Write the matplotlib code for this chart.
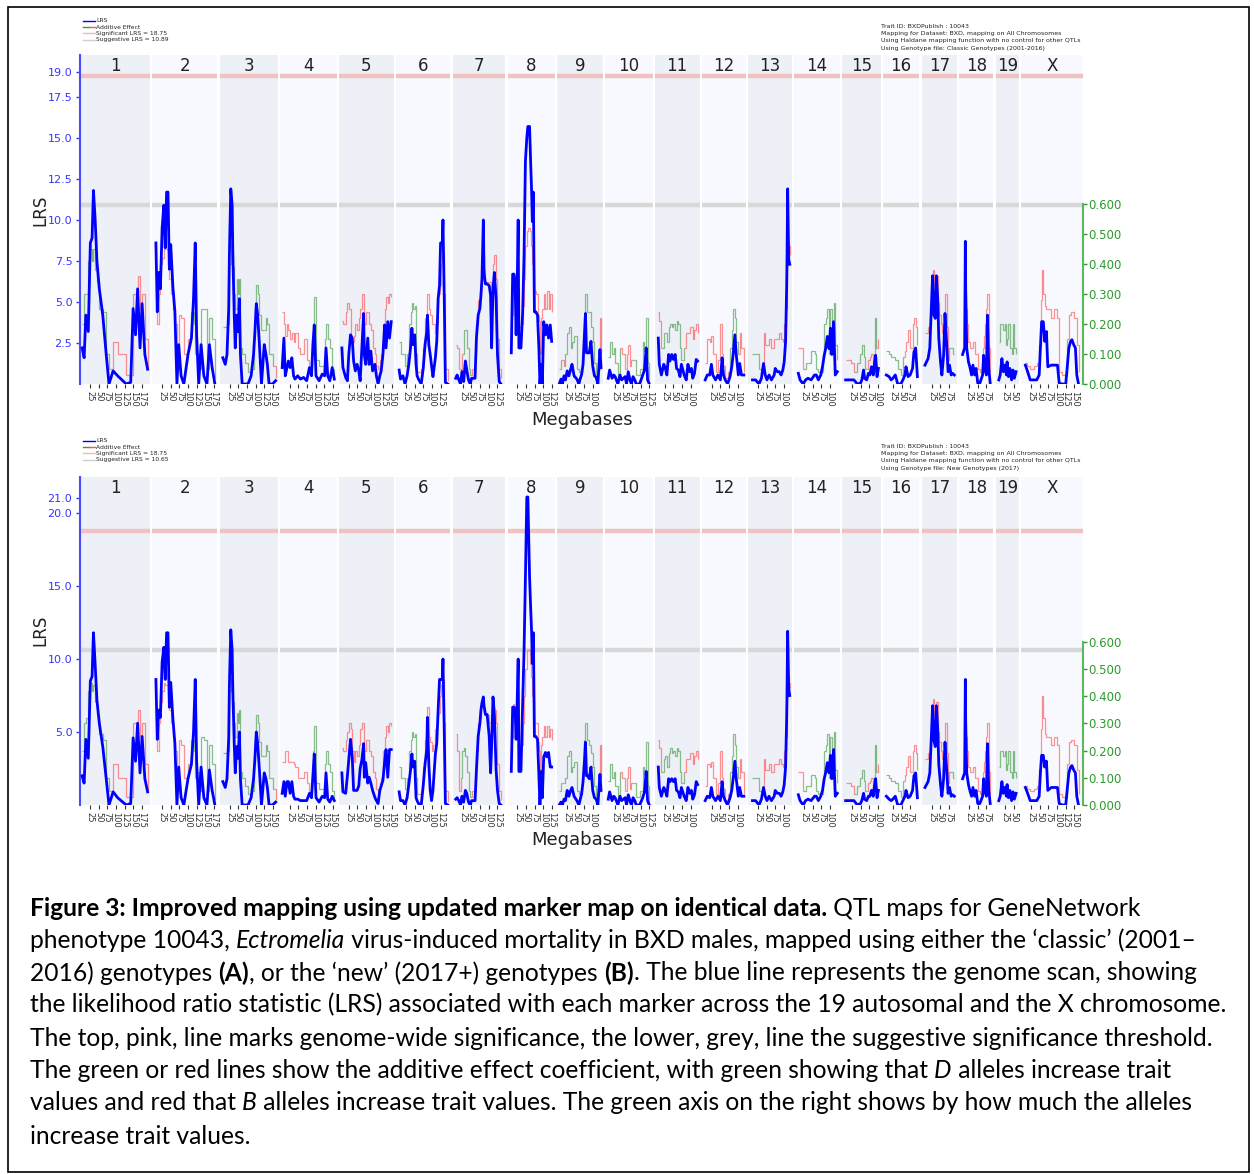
# QTL maps (GeneNetwork style) for two genotype files, with the figure caption below

import numpy as np
import matplotlib
matplotlib.use("Agg")
import matplotlib.pyplot as plt
from matplotlib.collections import LineCollection
from matplotlib.patches import Rectangle
from matplotlib import transforms

# %% data
chrom_names = ['1', '2', '3', '4', '5', '6', '7', '8', '9', '10',
               '11', '12', '13', '14', '15', '16', '17', '18', '19', 'X']
chrom_len = [195, 182, 160, 157, 152, 150, 145, 129, 125, 131,
             122, 120, 120, 125, 104, 98, 95, 91, 61, 171]  # Mb

# marker positions (Mb) per chromosome
pos = [
    [2, 8, 13, 20, 26, 31, 35, 40, 45, 52, 62, 72, 80, 92, 105, 130, 143, 150, 157, 163, 170, 176, 184, 192],
    [7, 11, 15, 20, 25, 30, 34, 38, 42, 46, 50, 56, 62, 68, 73, 80, 88, 100, 110, 116, 121, 125, 131, 138, 146, 155, 162, 170, 178],
    [5, 12, 17, 22, 24, 28, 32, 34, 38, 41, 45, 49, 53, 56, 61, 69, 78, 87, 94, 98, 102, 106, 111, 117, 125, 130, 134, 139, 149, 158],
    [3, 8, 12, 17, 21, 26, 31, 36, 40, 48, 56, 65, 74, 82, 88, 92, 96, 101, 110, 119, 126, 130, 135, 141, 148, 154],
    [5, 8, 16, 21, 25, 30, 35, 39, 44, 49, 54, 58, 63, 68, 70, 74, 80, 84, 89, 94, 101, 105, 110, 115, 119, 124, 129, 133, 138, 143, 148],
    [5, 9, 16, 22, 28, 33, 38, 42, 45, 50, 54, 57, 61, 69, 75, 80, 85, 87, 91, 95, 99, 103, 110, 114, 118, 122, 125, 130, 132, 136, 139, 146],
    [5, 9, 14, 19, 23, 28, 33, 37, 42, 47, 51, 61, 65, 70, 75, 78, 81, 85, 87, 91, 96, 102, 106, 109, 113, 117, 122, 126, 131, 136],
    [7, 11, 15, 18, 21, 24, 27, 29, 35, 40, 44, 48, 52, 55, 60, 63, 66, 68, 71, 74, 78, 83, 87, 90, 94, 97, 101, 106, 110, 115, 120, 124],
    [3, 8, 12, 17, 21, 26, 31, 36, 40, 46, 54, 60, 63, 68, 72, 76, 79, 82, 86, 90, 95, 100, 105, 110, 115, 121, 124],
    [6, 10, 17, 22, 26, 34, 40, 45, 55, 59, 64, 69, 73, 78, 83, 87, 97, 106, 111, 116, 120, 125],
    [6, 9, 15, 22, 26, 31, 36, 40, 45, 50, 55, 59, 64, 69, 73, 81, 87, 92, 97, 102, 106, 111, 116, 120],
    [6, 12, 19, 24, 28, 36, 43, 50, 55, 59, 64, 71, 78, 83, 87, 92, 96, 102, 106, 111, 118],
    [9, 18, 28, 35, 41, 46, 51, 57, 64, 72, 75, 81, 87, 92, 97, 101, 105, 108, 109, 111, 114, 117],
    [8, 13, 22, 29, 36, 45, 55, 60, 66, 73, 78, 83, 87, 92, 97, 101, 105, 110, 115, 121],
    [6, 12, 21, 30, 40, 49, 53, 58, 61, 67, 72, 76, 81, 86, 90, 93, 97, 101],
    [6, 14, 20, 25, 32, 39, 48, 54, 60, 63, 69, 75, 82, 86, 91, 96],
    [6, 15, 20, 24, 28, 32, 36, 39, 43, 46, 51, 55, 60, 64, 69, 73, 77, 82, 86, 91],
    [6, 12, 14, 15, 18, 23, 27, 32, 36, 41, 45, 50, 56, 64, 67, 70, 75, 78, 82, 86],
    [6, 10, 15, 19, 23, 28, 30, 34, 38, 43, 47, 51, 56],
    [8, 13, 22, 32, 41, 48, 52, 55, 60, 64, 69, 73, 83, 92, 101, 106, 115, 125, 129, 134, 139, 143, 148, 153, 157, 162],
]

# (A) classic genotypes: LRS and additive effect (+ = D allele increases, - = B allele increases)
lrs_a = [
    [2.2, 1.6, 4.2, 3.2, 8.6, 8.9, 11.8, 10.0, 7.5, 5.8, 4.2, 1.8, 0.0, 0.8, 0.5, 0.0, 0.1, 4.6, 3.0, 5.8, 2.2, 4.9, 1.8, 0.9],
    [8.6, 4.4, 6.8, 5.8, 9.5, 10.9, 8.3, 11.7, 11.7, 7.0, 8.5, 6.0, 4.4, 0.0, 2.4, 0.5, 0.0, 1.8, 2.8, 5.2, 8.6, 3.0, 0.0, 2.4, 0.5, 0.0, 2.4, 1.0, 0.0],
    [1.6, 1.2, 1.8, 4.6, 7.9, 11.9, 10.9, 7.9, 4.2, 2.2, 4.2, 3.2, 5.2, 1.8, 0.0, 0.0, 0.0, 0.5, 1.8, 3.2, 4.9, 4.2, 2.4, 0.0, 2.4, 1.8, 1.2, 0.0, 0.0, 0.2],
    [1.0, 2.8, 0.5, 1.0, 1.4, 1.0, 1.6, 0.5, 0.3, 0.5, 0.3, 0.4, 0.2, 1.0, 0.5, 2.4, 3.6, 0.5, 0.2, 0.6, 0.5, 2.2, 0.5, 0.2, 1.0, 0.3],
    [2.2, 1.0, 0.4, 0.2, 1.8, 3.0, 2.8, 1.4, 0.8, 1.2, 0.8, 0.2, 2.2, 4.3, 1.8, 1.2, 2.8, 1.2, 2.0, 0.8, 1.2, 0.5, 0.0, 0.5, 0.8, 1.8, 3.6, 2.2, 3.8, 2.8, 3.8],
    [0.85, 0.3, 0.5, 0.0, 0.5, 1.2, 2.2, 3.4, 2.4, 3.0, 1.2, 0.5, 0.3, 0.0, 1.0, 2.4, 3.2, 4.2, 2.4, 1.8, 1.1, 0.45, 1.6, 2.6, 5.2, 6.0, 8.6, 8.6, 10.0, 4.8, 0.1, 0.0],
    [0.35, 0.55, 0.25, 0.0, 0.75, 0.15, 1.4, 0.85, 0.25, 0.0, 0.35, 0.35, 2.8, 4.2, 4.6, 5.4, 6.4, 10.0, 6.8, 6.1, 6.1, 6.0, 5.4, 2.2, 5.8, 6.8, 5.2, 1.8, 0.15, 0.0],
    [1.9, 6.7, 6.7, 6.2, 3.0, 5.8, 10.0, 2.2, 2.2, 4.4, 7.9, 13.6, 15.0, 15.7, 15.7, 13.6, 11.7, 9.9, 11.7, 4.4, 4.4, 4.2, 2.2, 0.0, 1.2, 0.0, 3.8, 3.0, 3.6, 2.8, 3.6, 2.6],
    [0.0, 0.3, 0.0, 0.5, 0.25, 0.8, 0.5, 0.9, 1.2, 0.5, 0.3, 0.0, 0.25, 0.6, 1.2, 3.0, 4.3, 1.9, 1.9, 1.9, 2.6, 1.1, 0.5, 0.4, 0.0, 2.1, 1.0],
    [0.35, 0.85, 0.35, 0.55, 0.45, 0.0, 0.55, 0.25, 0.45, 0.0, 0.75, 0.25, 0.0, 0.45, 0.25, 0.0, 0.0, 0.55, 0.85, 2.2, 0.25, 0.0],
    [2.8, 1.2, 0.55, 1.2, 1.0, 0.55, 1.8, 1.4, 1.8, 1.5, 1.8, 0.95, 0.85, 0.45, 1.2, 0.55, 0.25, 1.2, 0.75, 0.95, 0.35, 0.65, 1.5, 1.4],
    [0.25, 0.55, 0.55, 1.2, 0.55, 0.25, 0.55, 0.25, 1.6, 0.55, 0.25, 0.0, 0.45, 1.05, 1.8, 3.0, 1.8, 0.55, 1.25, 0.55, 0.55],
    [0.25, 0.25, 0.0, 0.35, 1.25, 0.55, 0.25, 0.55, 0.25, 0.55, 0.95, 0.75, 0.75, 0.55, 0.85, 1.35, 2.6, 5.8, 7.3, 11.9, 7.6, 7.3],
    [0.65, 0.25, 0.0, 0.25, 0.35, 0.25, 0.55, 0.55, 0.25, 0.55, 1.05, 1.75, 2.15, 2.9, 2.15, 3.4, 1.8, 3.8, 0.55, 0.75],
    [0.25, 0.25, 0.25, 0.25, 0.0, 0.05, 0.25, 0.85, 0.35, 0.25, 0.65, 0.55, 1.05, 0.55, 1.35, 1.75, 0.45, 0.95],
    [0.55, 0.45, 0.25, 0.35, 0.55, 0.0, 0.0, 0.25, 0.55, 1.05, 0.45, 0.55, 0.95, 1.95, 2.2, 0.45],
    [1.15, 1.55, 2.2, 4.4, 6.6, 4.2, 4.0, 6.6, 5.2, 2.8, 1.35, 0.55, 1.75, 4.3, 2.4, 0.75, 1.15, 0.55, 0.65, 0.55],
    [1.8, 2.2, 8.7, 5.8, 2.2, 1.35, 1.05, 0.55, 1.15, 0.55, 0.95, 0.05, 0.05, 0.55, 1.75, 0.95, 0.55, 4.2, 0.95, 0.05],
    [0.25, 0.55, 1.55, 0.75, 1.15, 0.55, 1.35, 0.45, 0.95, 0.25, 0.85, 0.35, 0.75],
    [1.15, 0.85, 0.25, 0.25, 0.25, 0.55, 2.4, 3.8, 3.8, 2.6, 3.2, 1.05, 1.15, 1.15, 1.15, 0.05, 0.0, 0.0, 0.95, 2.2, 2.6, 2.7, 2.4, 2.2, 0.55, 0.0],
]
add_a = [
    [0.2, 0.3, 0.3, 0.41, 0.45, 0.41, 0.45, 0.38, 0.34, 0.25, 0.24, 0.1, -0.05, -0.14, -0.1, -0.03, -0.03, -0.3, -0.3, -0.36, -0.25, -0.3, -0.15, -0.05],
    [-0.35, -0.2, -0.3, -0.4, -0.42, -0.45, -0.45, -0.45, -0.4, -0.35, -0.3, -0.25, -0.2, -0.05, -0.23, -0.22, -0.1, 0.15, 0.24, 0.2, -0.1, 0.1, 0.05, 0.25, 0.25, 0.05, 0.22, 0.15, 0.02],
    [0.19, 0.19, 0.2, 0.3, 0.4, 0.47, 0.45, 0.39, 0.3, 0.25, 0.35, 0.3, 0.35, 0.12, 0.1, 0.07, 0.04, 0.05, 0.15, 0.25, 0.33, 0.3, 0.23, 0.18, 0.18, 0.22, 0.2, 0.1, -0.06, 0.02],
    [-0.24, -0.2, -0.16, -0.2, -0.18, -0.15, -0.17, -0.14, -0.17, -0.12, -0.1, -0.15, -0.08, -0.05, 0.1, 0.2, 0.29, 0.08, 0.06, 0.06, 0.15, 0.2, 0.15, 0.12, 0.05, 0.02],
    [-0.21, -0.2, -0.24, -0.27, -0.25, -0.14, -0.14, -0.16, -0.2, -0.18, -0.22, -0.25, -0.3, -0.28, -0.2, -0.24, -0.24, -0.2, -0.18, -0.12, -0.1, -0.06, -0.05, -0.08, -0.1, -0.2, -0.25, -0.29, -0.27, -0.3, -0.29],
    [0.14, 0.1, 0.1, 0.06, 0.1, 0.2, 0.24, 0.27, 0.25, 0.26, 0.1, 0.04, -0.04, -0.05, -0.12, -0.22, -0.3, -0.3, -0.25, -0.23, -0.2, -0.2, -0.17, -0.2, -0.3, -0.33, -0.4, -0.43, -0.43, -0.3, -0.05, -0.01],
    [-0.13, -0.12, -0.05, -0.03, 0.1, 0.18, 0.18, 0.12, 0.05, -0.03, -0.05, -0.1, -0.2, -0.28, -0.3, -0.35, -0.4, -0.43, -0.38, -0.34, -0.34, -0.34, -0.32, -0.25, -0.4, -0.43, -0.35, -0.15, -0.05, 0.02],
    [-0.23, -0.36, -0.35, -0.32, -0.25, -0.3, -0.32, -0.19, -0.2, -0.26, -0.35, -0.46, -0.51, -0.52, -0.51, -0.46, -0.43, -0.4, -0.38, -0.31, -0.3, -0.23, -0.21, -0.1, -0.22, -0.25, -0.3, -0.25, -0.31, -0.25, -0.3, -0.24],
    [0.05, -0.08, -0.08, 0.06, 0.1, 0.17, 0.19, 0.12, 0.14, 0.16, 0.05, 0.04, 0.04, 0.08, 0.13, 0.22, 0.3, 0.24, 0.24, 0.24, 0.19, 0.14, 0.07, 0.03, -0.05, -0.22, -0.1],
    [0.09, 0.14, 0.1, 0.12, 0.07, 0.02, -0.12, -0.1, -0.05, -0.1, -0.13, -0.06, -0.08, 0.08, 0.08, 0.03, 0.05, 0.14, 0.11, 0.22, 0.07, 0.01],
    [-0.24, -0.21, 0.12, 0.17, 0.17, 0.14, 0.19, 0.2, 0.19, 0.2, 0.18, 0.21, 0.2, 0.12, 0.08, -0.12, -0.17, -0.17, -0.19, -0.19, -0.15, -0.18, -0.2, -0.17],
    [-0.07, -0.15, -0.14, -0.16, -0.1, -0.04, -0.08, -0.2, -0.1, -0.06, -0.02, 0.04, 0.12, 0.18, 0.25, 0.22, 0.14, -0.1, -0.17, -0.12, -0.04],
    [0.1, 0.1, 0.05, -0.05, -0.17, -0.13, -0.13, -0.15, -0.12, -0.15, -0.15, -0.15, -0.17, -0.15, -0.14, -0.2, -0.25, -0.33, -0.4, -0.47, -0.46, -0.43],
    [-0.12, -0.12, 0.05, 0.07, 0.07, 0.11, 0.1, 0.05, 0.04, 0.04, 0.1, 0.2, 0.22, 0.25, 0.1, 0.25, 0.12, 0.27, 0.13, 0.08],
    [-0.08, -0.08, -0.07, 0.04, 0.07, 0.1, 0.13, 0.09, 0.05, -0.05, -0.08, -0.09, -0.1, 0.04, 0.22, 0.12, -0.12, -0.15],
    [0.11, 0.1, 0.09, 0.09, 0.08, 0.05, 0.03, -0.09, -0.11, -0.14, -0.18, -0.12, -0.2, -0.22, 0.19, 0.13],
    [-0.17, -0.19, -0.22, -0.24, -0.38, -0.33, -0.3, -0.36, -0.27, -0.23, -0.2, -0.17, -0.2, -0.3, -0.19, -0.08, 0.12, 0.12, 0.1, 0.1],
    [-0.12, -0.2, -0.3, -0.25, -0.2, -0.14, -0.12, -0.12, -0.14, -0.1, -0.1, -0.05, -0.04, -0.12, -0.16, -0.2, -0.25, -0.3, -0.12, -0.04],
    [0.14, 0.2, 0.2, 0.18, 0.2, 0.13, 0.15, 0.2, 0.12, 0.1, 0.2, 0.12, 0.1],
    [-0.07, -0.06, -0.05, -0.06, -0.07, -0.13, -0.28, -0.38, -0.3, -0.26, -0.25, -0.25, -0.22, -0.25, -0.22, -0.04, 0.03, 0.03, -0.15, -0.23, -0.24, -0.24, -0.22, -0.22, -0.13, -0.04],
]

# (B) new genotypes
lrs_b = [
    [2.0, 1.5, 4.5, 3.2, 8.5, 8.8, 11.8, 9.6, 7.2, 5.6, 4.0, 1.8, 0.0, 0.9, 0.5, 0.0, 0.1, 4.6, 3.0, 5.6, 2.2, 4.7, 1.8, 0.9],
    [8.6, 4.5, 6.5, 6.0, 9.8, 10.8, 8.6, 11.8, 11.8, 6.7, 8.4, 6.0, 4.2, 0.0, 2.6, 0.5, 0.0, 1.8, 2.8, 5.0, 8.6, 3.0, 0.0, 2.6, 0.5, 0.0, 2.4, 1.0, 0.0],
    [1.6, 1.2, 1.8, 4.6, 8.2, 12.0, 10.6, 7.7, 4.2, 2.2, 4.0, 3.2, 5.0, 1.8, 0.0, 0.0, 0.0, 0.5, 1.8, 3.2, 5.0, 4.2, 2.4, 0.0, 2.2, 1.8, 1.2, 0.0, 0.0, 0.2],
    [0.8, 1.6, 0.6, 1.6, 1.6, 0.8, 1.6, 0.6, 0.4, 0.4, 0.3, 0.3, 0.3, 0.8, 0.5, 2.0, 3.5, 0.5, 0.2, 0.6, 0.5, 2.2, 0.4, 0.2, 0.6, 0.3],
    [2.2, 0.9, 0.8, 2.0, 3.1, 4.5, 3.3, 1.0, 1.0, 1.0, 1.3, 2.5, 3.1, 4.2, 1.9, 2.9, 1.5, 1.9, 1.5, 1.0, 0.5, 0.3, 0.1, 1.0, 1.3, 1.7, 3.0, 3.8, 1.9, 3.8, 3.8],
    [0.9, 0.3, 0.3, 0.0, 0.5, 1.4, 2.4, 3.5, 2.6, 3.0, 0.5, 0.3, 0.1, 0.0, 1.4, 2.8, 3.8, 6.0, 2.8, 1.0, 0.3, 1.0, 3.5, 4.2, 6.5, 8.6, 8.6, 8.6, 10.0, 4.6, 0.1, 0.0],
    [0.4, 0.5, 0.3, 0.0, 0.6, 0.2, 1.0, 0.8, 0.2, 0.0, 0.3, 0.3, 2.4, 4.7, 5.6, 6.5, 7.0, 7.4, 6.8, 6.2, 6.2, 4.7, 2.2, 4.0, 7.4, 6.2, 2.4, 1.0, 0.1, 0.0],
    [2.3, 6.7, 6.7, 6.5, 4.5, 7.0, 10.0, 2.3, 2.3, 7.0, 10.6, 15.6, 21.1, 21.1, 15.6, 13.6, 11.8, 9.7, 11.8, 4.7, 4.7, 4.5, 2.0, 0.0, 2.3, 0.5, 3.3, 3.6, 3.3, 3.6, 2.6, 2.6],
    [0.0, 0.2, 0.0, 0.4, 0.3, 1.0, 0.6, 1.0, 1.2, 0.6, 0.3, 0.0, 0.3, 0.8, 1.6, 3.0, 4.3, 2.0, 2.0, 1.8, 2.6, 1.0, 0.5, 0.4, 0.0, 2.1, 1.0],
    [0.4, 0.9, 0.3, 0.6, 0.5, 0.0, 0.6, 0.3, 0.5, 0.0, 0.7, 0.3, 0.0, 0.5, 0.3, 0.0, 0.0, 0.5, 0.9, 2.3, 0.3, 0.0],
    [2.6, 1.2, 0.6, 1.2, 1.0, 0.6, 1.8, 1.6, 1.8, 1.6, 1.8, 1.0, 0.9, 0.5, 1.2, 0.6, 0.3, 1.2, 0.8, 1.0, 0.4, 0.7, 1.6, 1.4],
    [0.3, 0.6, 0.5, 1.2, 0.6, 0.3, 0.6, 0.3, 1.6, 0.6, 0.3, 0.0, 0.5, 1.0, 1.8, 3.0, 1.8, 0.6, 1.2, 0.6, 0.6],
    [0.3, 0.3, 0.0, 0.4, 1.2, 0.6, 0.3, 0.6, 0.3, 0.6, 1.0, 0.8, 0.8, 0.6, 0.9, 1.4, 2.6, 5.8, 7.3, 11.9, 8.0, 7.5],
    [0.7, 0.3, 0.0, 0.3, 0.4, 0.3, 0.6, 0.6, 0.3, 0.6, 1.0, 1.8, 2.2, 2.9, 2.2, 3.4, 1.8, 3.8, 0.6, 0.8],
    [0.3, 0.3, 0.3, 0.3, 0.0, 0.1, 0.3, 0.8, 0.4, 0.3, 0.6, 0.6, 1.0, 0.6, 1.4, 1.8, 0.5, 1.0],
    [0.6, 0.4, 0.3, 0.4, 0.6, 0.0, 0.0, 0.3, 0.6, 1.0, 0.5, 0.6, 1.0, 2.0, 2.2, 0.5],
    [1.2, 1.6, 2.2, 4.4, 6.8, 4.4, 4.0, 6.8, 5.2, 2.8, 1.4, 0.6, 1.8, 4.3, 2.4, 0.8, 1.2, 0.6, 0.7, 0.6],
    [1.8, 2.2, 8.6, 5.6, 2.2, 1.4, 1.0, 0.6, 1.2, 0.6, 1.0, 0.1, 0.1, 0.6, 1.8, 1.0, 0.6, 4.2, 1.0, 0.1],
    [0.3, 0.6, 1.6, 0.8, 1.2, 0.6, 1.4, 0.5, 1.0, 0.3, 0.9, 0.4, 0.8],
    [1.2, 0.9, 0.3, 0.3, 0.3, 0.6, 2.4, 3.4, 3.4, 2.6, 3.0, 1.0, 1.2, 1.2, 1.2, 0.1, 0.0, 0.0, 1.0, 2.2, 2.6, 2.7, 2.4, 2.2, 0.6, 0.0],
]
add_b = [
    [0.2, 0.3, 0.32, 0.42, 0.45, 0.42, 0.44, 0.38, 0.33, 0.26, 0.24, 0.1, -0.05, -0.15, -0.1, -0.03, -0.03, -0.3, -0.3, -0.35, -0.25, -0.3, -0.15, -0.05],
    [-0.33, -0.2, -0.3, -0.38, -0.42, -0.45, -0.44, -0.44, -0.4, -0.35, -0.3, -0.25, -0.2, -0.05, -0.24, -0.22, -0.1, 0.15, 0.24, 0.2, -0.1, 0.12, 0.05, 0.25, 0.24, 0.05, 0.22, 0.15, 0.02],
    [0.19, 0.19, 0.2, 0.3, 0.42, 0.47, 0.45, 0.38, 0.3, 0.25, 0.34, 0.3, 0.35, 0.12, 0.1, 0.07, 0.04, 0.05, 0.15, 0.25, 0.33, 0.3, 0.23, 0.18, 0.18, 0.22, 0.2, 0.1, -0.06, 0.02],
    [-0.16, -0.16, -0.2, -0.2, -0.16, -0.16, -0.16, -0.15, -0.14, -0.1, -0.1, -0.12, -0.08, -0.05, 0.1, 0.2, 0.29, 0.08, 0.06, 0.06, 0.15, 0.2, 0.15, 0.12, 0.05, 0.02],
    [-0.21, -0.2, -0.24, -0.27, -0.3, -0.28, -0.2, -0.16, -0.2, -0.18, -0.22, -0.28, -0.3, -0.28, -0.2, -0.24, -0.24, -0.2, -0.18, -0.12, -0.1, -0.06, -0.05, -0.08, -0.1, -0.2, -0.25, -0.29, -0.27, -0.3, -0.29],
    [0.14, 0.1, 0.1, 0.06, 0.1, 0.2, 0.24, 0.27, 0.25, 0.26, 0.1, 0.04, -0.04, -0.05, -0.14, -0.24, -0.32, -0.36, -0.25, -0.23, -0.2, -0.22, -0.28, -0.3, -0.34, -0.4, -0.44, -0.46, -0.46, -0.3, -0.05, -0.01],
    [-0.26, -0.2, -0.05, 0.1, 0.2, 0.21, 0.18, 0.12, 0.05, -0.03, -0.05, -0.1, -0.2, -0.3, -0.32, -0.37, -0.37, -0.37, -0.35, -0.33, -0.33, -0.3, -0.25, -0.3, -0.37, -0.35, -0.3, -0.15, -0.05, 0.02],
    [-0.25, -0.37, -0.36, -0.34, -0.27, -0.32, -0.35, -0.2, -0.22, -0.3, -0.4, -0.5, -0.57, -0.57, -0.52, -0.47, -0.44, -0.4, -0.38, -0.3, -0.3, -0.23, -0.2, -0.1, -0.22, -0.25, -0.29, -0.25, -0.29, -0.25, -0.28, -0.24],
    [0.05, -0.08, -0.08, 0.08, 0.1, 0.18, 0.2, 0.12, 0.14, 0.16, 0.05, 0.04, 0.04, 0.1, 0.15, 0.24, 0.3, 0.24, 0.24, 0.22, 0.19, 0.14, 0.07, 0.03, -0.05, -0.22, -0.1],
    [0.09, 0.15, 0.1, 0.12, 0.07, 0.02, -0.12, -0.1, -0.05, -0.1, -0.14, -0.06, -0.08, 0.08, 0.08, 0.03, 0.05, 0.14, 0.11, 0.23, 0.07, 0.01],
    [-0.24, -0.21, 0.12, 0.17, 0.18, 0.14, 0.19, 0.21, 0.19, 0.2, 0.18, 0.21, 0.2, 0.12, 0.08, -0.12, -0.17, -0.17, -0.19, -0.19, -0.15, -0.18, -0.2, -0.17],
    [-0.07, -0.15, -0.14, -0.16, -0.1, -0.04, -0.08, -0.2, -0.1, -0.06, -0.02, 0.04, 0.12, 0.18, 0.26, 0.22, 0.14, -0.1, -0.17, -0.12, -0.04],
    [0.1, 0.1, 0.05, -0.05, -0.17, -0.13, -0.13, -0.15, -0.12, -0.15, -0.15, -0.15, -0.17, -0.15, -0.14, -0.2, -0.25, -0.33, -0.4, -0.47, -0.45, -0.43],
    [-0.12, -0.12, 0.05, 0.07, 0.07, 0.11, 0.1, 0.05, 0.04, 0.04, 0.1, 0.2, 0.22, 0.26, 0.1, 0.25, 0.12, 0.27, 0.13, 0.08],
    [-0.08, -0.08, -0.07, 0.04, 0.07, 0.1, 0.13, 0.09, 0.05, -0.05, -0.08, -0.09, -0.1, 0.04, 0.22, 0.12, -0.12, -0.15],
    [0.11, 0.1, 0.09, 0.09, 0.08, 0.05, 0.03, -0.09, -0.11, -0.14, -0.18, -0.12, -0.2, -0.22, 0.19, 0.13],
    [-0.17, -0.19, -0.22, -0.24, -0.39, -0.33, -0.3, -0.38, -0.27, -0.23, -0.2, -0.17, -0.2, -0.3, -0.19, -0.08, 0.12, 0.12, 0.1, 0.1],
    [-0.12, -0.2, -0.3, -0.25, -0.2, -0.14, -0.12, -0.12, -0.14, -0.1, -0.1, -0.05, -0.04, -0.12, -0.16, -0.2, -0.25, -0.3, -0.12, -0.04],
    [0.14, 0.2, 0.2, 0.18, 0.2, 0.13, 0.15, 0.2, 0.12, 0.1, 0.2, 0.12, 0.1],
    [-0.07, -0.06, -0.05, -0.06, -0.07, -0.13, -0.28, -0.4, -0.32, -0.26, -0.25, -0.25, -0.22, -0.25, -0.22, -0.04, 0.03, 0.03, -0.15, -0.23, -0.24, -0.24, -0.22, -0.22, -0.13, -0.04],
]

sig_a, sugg_a = 18.75, 10.89
sig_b, sugg_b = 18.75, 10.65
yticks_a = [2.5, 5.0, 7.5, 10.0, 12.5, 15.0, 17.5, 19.0]
yticks_b = [5.0, 10.0, 15.0, 20.0, 21.0]
add_ticks = [0.0, 0.1, 0.2, 0.3, 0.4, 0.5, 0.6]

# %% layout
W, H = 1254, 1174
fig = plt.figure(figsize=(W / 100, H / 100), dpi=100)

gap = 14
offs = []
s = 0
for L in chrom_len:
    offs.append(s)
    s += L + gap
x_end = offs[-1] + chrom_len[-1]

tick_pos, tick_lab = [], []
for o, L in zip(offs, chrom_len):
    for t in range(25, L, 25):
        tick_pos.append(o + t)
        tick_lab.append(str(t))

blue = '#0000ff'
shade = ['#eef0f8', '#f8f9fe']


def fpos(x, y):
    return x / W, 1 - y / H


def panel(top, bottom, lrs, add, sig, sugg, ytop, yticks, add_top, sugg_txt, geno_txt, leg_y, info_y, mb_y, lrs_y):
    ax = fig.add_axes([80 / W, 1 - bottom / H, (1083 - 80) / W, (bottom - top) / H])
    ax2 = ax.twinx()
    ax.set_xlim(-4, x_end + 4)
    ax.set_ylim(0, ytop)
    ax2.set_ylim(0, add_top)
    ax.set_facecolor('white')
    lab_tr = transforms.blended_transform_factory(ax.transData, ax.transAxes)
    lab_y = 1 - 11 / (bottom - top)
    for i in range(len(chrom_len)):
        x0 = offs[i] - 3.5
        x1 = offs[i] + chrom_len[i] + 3.5
        ax.axvspan(x0, x1, color=shade[i % 2], lw=0, zorder=0)
        ax.plot([x0, x1], [sig, sig], color='#f0c3c3', lw=3.2, zorder=1, solid_capstyle='butt')
        ax.plot([x0, x1], [sugg, sugg], color='#d8d8d8', lw=3.2, zorder=1, solid_capstyle='butt')
        ax.text((x0 + x1) / 2, lab_y, chrom_names[i], transform=lab_tr, ha='center', va='center',
                fontsize=12, color='#222222')

        xs = offs[i] + np.array(pos[i])
        av = np.array(add[i])
        green, red = [], []
        for j in range(len(xs) - 1):
            seg = [(xs[j], abs(av[j])), (xs[j + 1], abs(av[j])), (xs[j + 1], abs(av[j + 1]))]
            (green if av[j] > 0 else red).append(seg)
        lc_g = LineCollection(green, colors='#2f8f2f', linewidths=0.9, alpha=0.55,
                              transform=ax2.transData, zorder=2)
        lc_r = LineCollection(red, colors='#ff2a2a', linewidths=0.9, alpha=0.5,
                              transform=ax2.transData, zorder=2)
        ax.add_collection(lc_g, autolim=False)
        ax.add_collection(lc_r, autolim=False)
        ax.plot(xs, lrs[i], color=blue, lw=2.0, zorder=3)

    # left axis
    for sp in ['top', 'right', 'bottom']:
        ax.spines[sp].set_visible(False)
    ax.spines['left'].set_color('#4a4aff')
    ax.spines['left'].set_linewidth(1.5)
    ax.set_yticks(yticks, ['%.1f' % v for v in yticks])
    ax.tick_params(axis='y', colors='#3535ff', labelsize=8, length=3, width=1, pad=2.5)
    ax.set_xticks(tick_pos, tick_lab)
    ax.tick_params(axis='x', colors='#333333', labelsize=6, length=3, width=0.8, pad=2,
                   labelrotation=270)

    # right axis (additive effect)
    for sp in ['top', 'left', 'bottom']:
        ax2.spines[sp].set_visible(False)
    ax2.spines['right'].set_color('#5cb85c')
    ax2.spines['right'].set_linewidth(1.5)
    ax2.spines['right'].set_bounds(0, 0.6)
    ax2.set_yticks(add_ticks, ['%.3f' % v for v in add_ticks])
    ax2.tick_params(axis='y', colors='#2e9a2e', labelsize=8.5, length=3, width=1, pad=1)

    fig.text(*fpos(582, mb_y), 'Megabases', ha='center', va='center', fontsize=13, color='#222222')
    fig.text(*fpos(40, lrs_y), 'LRS', ha='center', va='center', rotation=90, fontsize=12, color='#222222')

    # legend (top left)
    leg = [('LRS', [blue]), ('Additive Effect', ['#3a9a3a', '#ff5555']),
           ('Significant LRS = %.2f' % sig, ['#f2b8b8']), (sugg_txt, ['#d0d0d0'])]
    for k, (txt, cols) in enumerate(leg):
        yy = leg_y + k * 6.2
        n = len(cols)
        for c_i, c in enumerate(cols):
            xa = 83 + c_i * 12 / n
            fig.add_artist(plt.Line2D([xa / W, (xa + 12 / n) / W], [1 - yy / H, 1 - yy / H],
                                      color=c, lw=1.0))
        fig.text(*fpos(96, yy), txt, fontsize=4.3, va='center', ha='left', color='#222222')

    info = ['Trait ID: BXDPublish : 10043',
            'Mapping for Dataset: BXD, mapping on All Chromosomes',
            'Using Haldane mapping function with no control for other QTLs',
            geno_txt]
    for k, txt in enumerate(info):
        fig.text(*fpos(881, info_y + k * 7.4), txt, fontsize=4.5, va='center', ha='left', color='#222222')
    return ax


panel(55, 384, lrs_a, add_a, sig_a, sugg_a, 20.06, yticks_a, 1.096,
      'Suggestive LRS = %.2f' % sugg_a, 'Using Genotype file: Classic Genotypes (2001-2016)',
      21, 26, 420, 210)
panel(477, 805, lrs_b, add_b, sig_b, sugg_b, 22.47, yticks_b, 1.207,
      'Suggestive LRS = %.2f' % sugg_b, 'Using Genotype file: New Genotypes (2017)',
      441, 446, 840, 630)

# %% caption
cap = [
    [('Figure 3: Improved mapping using updated marker map on identical data.', 'b'),
     (' QTL maps for GeneNetwork', 'n')],
    [('phenotype 10043, ', 'n'), ('Ectromelia', 'i'),
     (' virus-induced mortality in BXD males, mapped using either the \u2018classic\u2019 (2001\u2013', 'n')],
    [('2016) genotypes ', 'n'), ('(A)', 'b'), (', or the \u2018new\u2019 (2017+) genotypes ', 'n'), ('(B)', 'b'),
     ('. The blue line represents the genome scan, showing', 'n')],
    [('the likelihood ratio statistic (LRS) associated with each marker across the 19 autosomal and the X chromosome.', 'n')],
    [('The top, pink, line marks genome-wide significance, the lower, grey, line the suggestive significance threshold.', 'n')],
    [('The green or red lines show the additive effect coefficient, with green showing that ', 'n'), ('D', 'i'),
     (' alleles increase trait', 'n')],
    [('values and red that ', 'n'), ('B', 'i'),
     (' alleles increase trait values. The green axis on the right shows by how much the alleles', 'n')],
    [('increase trait values.', 'n')],
]
cap_y = [908, 940, 973, 1005, 1038, 1071, 1103, 1136]
cap_font = 'Lato'

renderer = fig.canvas.get_renderer()
probe = fig.text(0, 0, cap[3][0][0], fontsize=16, fontfamily=cap_font)
w = probe.get_window_extent(renderer=renderer).width
probe.remove()
cap_size = 16 * 1203 / w

for parts, y in zip(cap, cap_y):
    x = 30
    for txt, st in parts:
        t = fig.text(*fpos(x, y), txt, fontsize=cap_size, fontfamily=cap_font,
                     fontweight='bold' if st == 'b' else 'normal',
                     fontstyle='italic' if st == 'i' else 'normal',
                     ha='left', va='center', color='black')
        x += t.get_window_extent(renderer=renderer).width

# border around the whole figure
fig.add_artist(Rectangle(fpos(8, 1172), 1241 / W, 1165 / H, fill=False, edgecolor='black', lw=1.2))

fig.savefig('out.png', dpi=100)
